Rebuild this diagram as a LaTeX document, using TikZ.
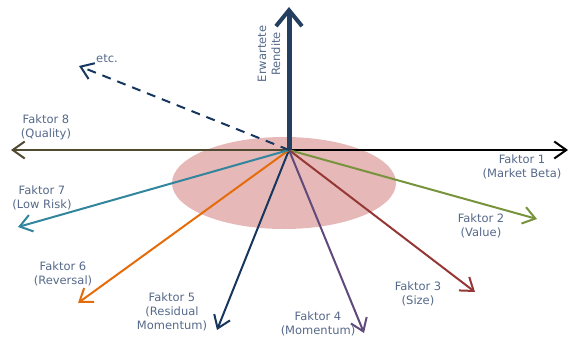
\documentclass[tikz,border=0pt]{standalone}
\usepackage{fontspec}
\setmainfont{DejaVu Sans}
\usetikzlibrary{arrows.meta}

\definecolor{txtgray}{HTML}{56698A}
\definecolor{ellpink}{HTML}{E6B8B7}
\definecolor{navy}{HTML}{243F60}
\definecolor{darkblue}{HTML}{17375E}
\definecolor{fgreen}{HTML}{77933C}
\definecolor{fred}{HTML}{953735}
\definecolor{fpurple}{HTML}{604A7B}
\definecolor{forange}{HTML}{E46C0A}
\definecolor{fteal}{HTML}{31859C}
\definecolor{folive}{HTML}{4F4A30}

\begin{document}
\begin{tikzpicture}[x=1pt,y=-1pt,
  factor/.style={line width=2pt,-{Straight Barb[length=12pt,width=17pt,line width=2pt]}},
  label/.style={text=txtgray,align=center,inner sep=0pt,font=\fontsize{11.5}{14}\selectfont}]
\useasboundingbox (0,0) rectangle (570,338);

% risk cloud
\fill [ellpink] (284,183) ellipse [x radius=112, y radius=46];

\coordinate (o) at (289,150);
\coordinate (ret) at (289,7);
\coordinate (f1) at (568,150);
\coordinate (f2) at (537,219);
\coordinate (f3) at (475,292);
\coordinate (f4) at (364,333);
\coordinate (f5) at (217,330);
\coordinate (f6) at (78,303);
\coordinate (f7) at (18,227);
\coordinate (f8) at (11,150);
\coordinate (etc) at (79,66);

% factor axes
\draw [factor,folive] (o) -- (f8);
\draw [factor,black] (o) -- (f1);
\draw [factor,fgreen] (o) -- (f2);
\draw [factor,fred] (o) -- (f3);
\draw [factor,fpurple] (o) -- (f4);
\draw [factor,darkblue] (o) -- (f5);
\draw [factor,forange] (o) -- (f6);
\draw [factor,fteal] (o) -- (f7);
\draw [factor,darkblue,dash pattern=on 9pt off 7pt] (o) -- (etc);

% expected return
\draw [navy,line width=5pt,-{Straight Barb[length=16pt,width=26pt,line width=4pt]}] (o) -- (ret);

\node [label,rotate=90] (lret) at (269,54) {Erwartete\\Rendite};
\node [label] (letc) at (107,59) {etc.};
\node [label] (l8) at (46,127) {Faktor 8\\(Quality)};
\node [label] (l1) at (522,167) {Faktor 1\\(Market Beta)};
\node [label] (l2) at (481,226) {Faktor 2\\(Value)};
\node [label] (l7) at (42,198) {Faktor 7\\(Low Risk)};
\node [label] (l6) at (63,274) {Faktor 6\\(Reversal)};
\node [label] (l3) at (418,294) {Faktor 3\\(Size)};
\node [label] (l5) at (172,312) {Faktor 5\\(Residual\\Momentum)};
\node [label] (l4) at (318,324) {Faktor 4\\(Momentum)};
\end{tikzpicture}
\end{document}
